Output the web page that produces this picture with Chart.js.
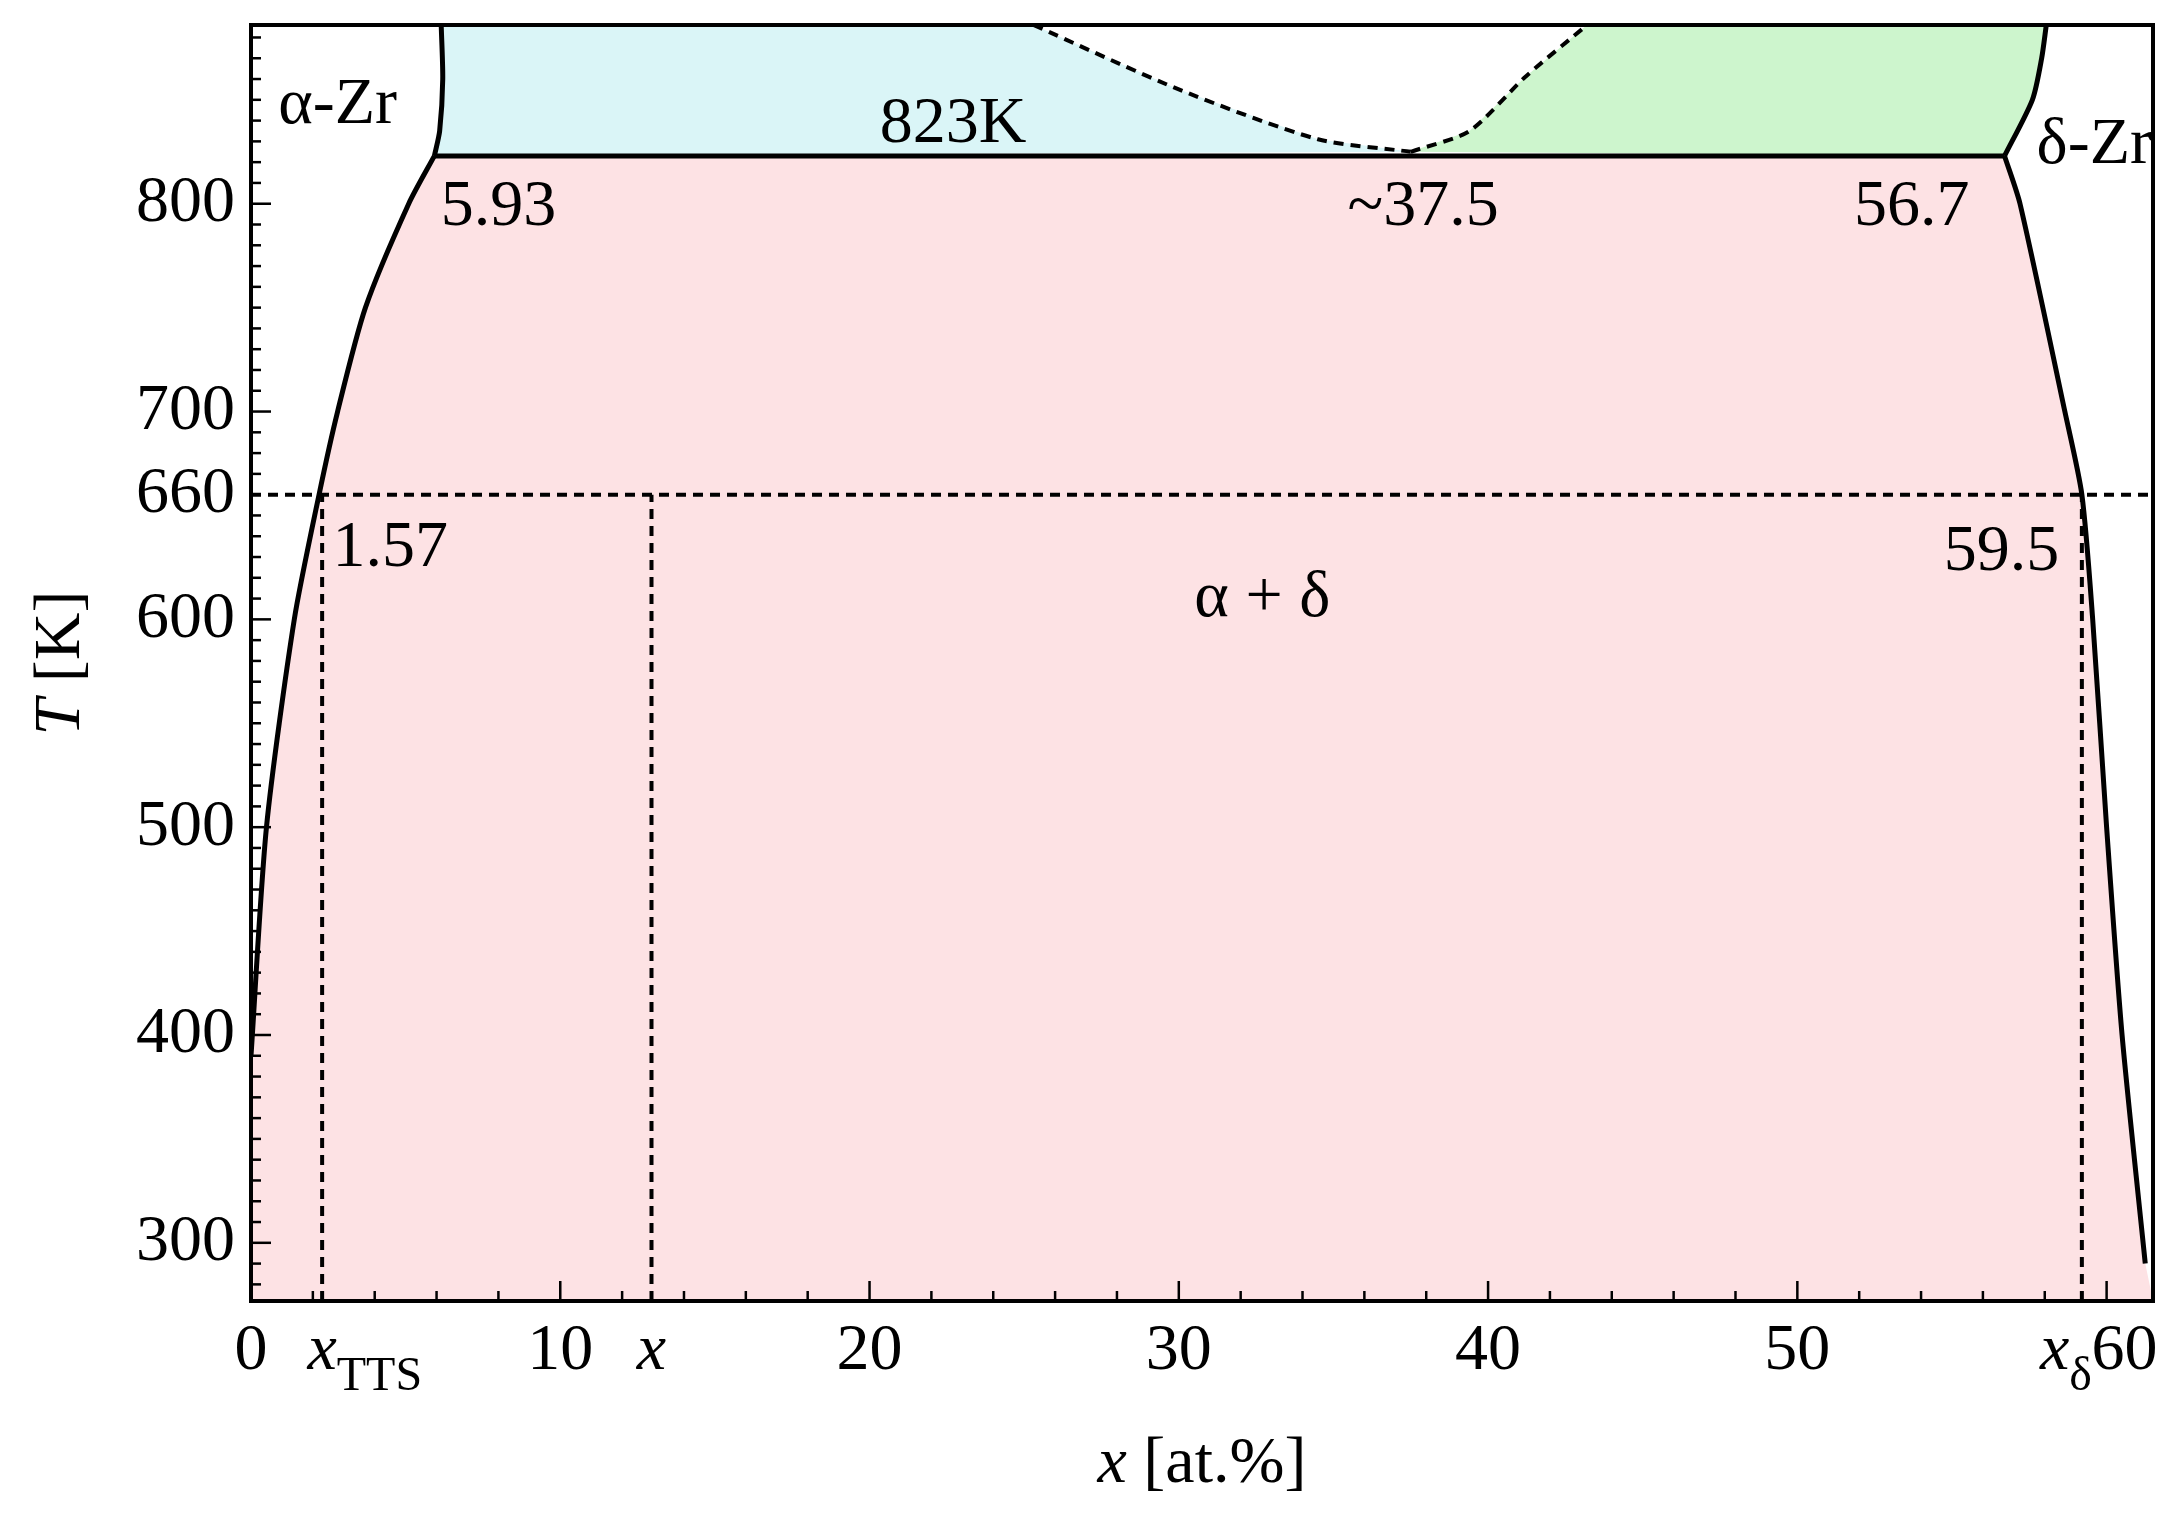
<!DOCTYPE html>
<html>
<head>
<meta charset="UTF-8">
<script src="https://cdn.jsdelivr.net/npm/chart.js"></script>
<style>
  body { margin: 0; background: #fff; }
</style>
</head>
<body>
<canvas id="phase" width="2175" height="1520"></canvas>
<script>
// alpha-Zr solvus (x at.%, T K)
const alphaX = [0, 0.5, 1.4, 2.2, 2.8, 3.7, 5.1, 5.93, 6.1, 6.2, 6.15];
const alphaT = [390, 500, 600, 660, 700, 750, 800, 823, 835, 860, 886];
// delta-Zr boundary
const deltaX = [58.05, 57.9, 57.6, 56.7, 57.2, 58.65, 59.2, 59.55, 60.0, 60.5, 61.25];
const deltaT = [886, 870, 850, 823, 800, 700, 660, 600, 500, 400, 290];
// dashed upper curve
const dashX = [25.3, 30, 34.5, 37.5, 39.4, 41.2, 43.2];
const dashT = [886, 855, 831, 825, 835, 861, 886];
const xTicks = [0, 10, 20, 30, 40, 50, 60];
const yTicks = [300, 400, 500, 600, 700, 800, 660];
const xSpecial = [[2.3, 'x', 'TTS'], [12.95, 'x', ''], [59.2, 'x', 'δ']];
const labels = [
  ['α-Zr', 2.8, 847], ['823K', 22.7, 838], ['5.93', 8.0, 798], ['~37.5', 37.9, 798],
  ['56.7', 53.7, 798], ['δ-Zr', 59.6, 828], ['1.57', 4.5, 634], ['59.5', 56.6, 632], ['α + δ', 32.7, 610]
];
const xMin = 0, xMax = 61.5, yMin = 272, yMax = 886;

const pts = (xs, ts) => xs.map((x, i) => ({x: x, y: ts[i]}));
const alphaLow = pts(alphaX.slice(0, 8), alphaT.slice(0, 8));
const alphaHigh = pts(alphaX.slice(7), alphaT.slice(7));
const deltaHigh = pts(deltaX.slice(0, 4), deltaT.slice(0, 4));
const deltaLow = pts(deltaX.slice(3), deltaT.slice(3));
const dashLeft = pts(dashX.slice(0, 4), dashT.slice(0, 4));
const dashRight = pts(dashX.slice(3), dashT.slice(3));

const pinkPoly = [{x: 0, y: yMin}].concat(alphaLow, deltaLow, [{x: xMax, y: yMin}]);
const cyanPoly = alphaHigh.concat(dashLeft, [{x: alphaX[7], y: 823}]);
const greenPoly = dashRight.concat(deltaHigh);

const poly = (data, color) => ({data: data, fill: 'shape', backgroundColor: color, borderWidth: 0, pointRadius: 0, tension: 0});
const line = (data, dash, w) => ({data: data, fill: false, borderColor: '#000', borderWidth: w, borderDash: dash, pointRadius: 0, tension: 0.25});

const serif = '"Liberation Serif", "DejaVu Serif", serif';

const drawPlugin = {
  id: 'drawExtra',
  afterDatasetsDraw(chart) {
    const c = chart.ctx, xs = chart.scales.x, ys = chart.scales.y, a = chart.chartArea;
    c.save();
    c.strokeStyle = '#000'; c.lineWidth = 4;
    c.strokeRect(a.left, a.top, a.right - a.left, a.bottom - a.top);
    c.lineWidth = 2.5;
    for (let v = 280; v <= 880; v += 10) {
      const y = ys.getPixelForValue(v);
      const len = v % 100 === 0 ? 20 : 10;
      c.beginPath(); c.moveTo(a.left, y); c.lineTo(a.left + len, y); c.stroke();
    }
    for (let v = 0; v <= 61; v += 2) {
      const x = xs.getPixelForValue(v);
      const len = v % 10 === 0 ? 20 : 10;
      c.beginPath(); c.moveTo(x, a.bottom); c.lineTo(x, a.bottom - len); c.stroke();
    }
    c.fillStyle = '#000';
    c.font = '66px ' + serif;
    c.textAlign = 'right'; c.textBaseline = 'middle';
    yTicks.forEach(v => c.fillText(String(v), a.left - 16, ys.getPixelForValue(v)));
    c.textAlign = 'center'; c.textBaseline = 'top';
    xTicks.forEach(v => {
      let x = xs.getPixelForValue(v);
      if (v === 60) x += 18;
      c.fillText(String(v), x, a.bottom + 18);
    });
    xSpecial.forEach(s => {
      const x = xs.getPixelForValue(s[0]);
      c.font = 'italic 66px ' + serif;
      const w1 = c.measureText(s[1]).width;
      c.font = '48px ' + serif;
      const w2 = c.measureText(s[2]).width;
      let x0 = x - w1 / 2;
      if (s[2] === 'δ') x0 = x - w1 - w2 + 10;
      c.textAlign = 'left';
      c.font = 'italic 66px ' + serif;
      c.fillText(s[1], x0, a.bottom + 18);
      c.font = '48px ' + serif;
      c.fillText(s[2], x0 + w1, a.bottom + 52);
      c.textAlign = 'center';
    });
    c.font = '66px ' + serif; c.textBaseline = 'middle';
    labels.forEach(l => c.fillText(l[0], xs.getPixelForValue(l[1]), ys.getPixelForValue(l[2])));
    const cx = (a.left + a.right) / 2;
    c.font = 'italic 66px ' + serif;
    const wx = c.measureText('x').width;
    c.font = '66px ' + serif;
    const wr = c.measureText(' [at.%]').width;
    c.textAlign = 'left';
    c.font = 'italic 66px ' + serif;
    c.fillText('x', cx - (wx + wr) / 2, 1465);
    c.font = '66px ' + serif;
    c.fillText(' [at.%]', cx - (wx + wr) / 2 + wx, 1465);
    c.translate(62, (a.top + a.bottom) / 2);
    c.rotate(-Math.PI / 2);
    c.font = 'italic 66px ' + serif;
    const wt = c.measureText('T').width;
    c.font = '66px ' + serif;
    const wk = c.measureText(' [K]').width;
    c.font = 'italic 66px ' + serif;
    c.fillText('T', -(wt + wk) / 2, 0);
    c.font = '66px ' + serif;
    c.fillText(' [K]', -(wt + wk) / 2 + wt, 0);
    c.restore();
  }
};

new Chart(document.getElementById('phase'), {
  type: 'line',
  data: {
    datasets: [
      line(alphaLow, [], 5), line(alphaHigh, [], 5), line(deltaHigh, [], 5), line(deltaLow, [], 5),
      Object.assign(line([{x: alphaX[7], y: 823}, {x: deltaX[3], y: 823}], [], 5), {tension: 0}),
      line(dashLeft, [10, 7], 4), line(dashRight, [10, 7], 4),
      Object.assign(line([{x: xMin, y: 660}, {x: xMax, y: 660}], [10, 7], 4), {tension: 0}),
      Object.assign(line([{x: 2.3, y: yMin}, {x: 2.3, y: 660}], [10, 7], 4), {tension: 0}),
      Object.assign(line([{x: 12.95, y: yMin}, {x: 12.95, y: 660}], [10, 7], 4), {tension: 0}),
      Object.assign(line([{x: 59.2, y: yMin}, {x: 59.2, y: 660}], [10, 7], 4), {tension: 0}),
      poly(pinkPoly, '#fde2e4'), poly(cyanPoly, '#daf5f7'), poly(greenPoly, '#cdf5cd')
    ]
  },
  options: {
    responsive: false,
    animation: false,
    layout: {padding: {left: 251, right: 22, top: 25, bottom: 219}},
    plugins: {legend: {display: false}, tooltip: {enabled: false}},
    scales: {
      x: {type: 'linear', min: xMin, max: xMax, display: false},
      y: {type: 'linear', min: yMin, max: yMax, display: false}
    }
  },
  plugins: [drawPlugin]
});
</script>
</body>
</html>
